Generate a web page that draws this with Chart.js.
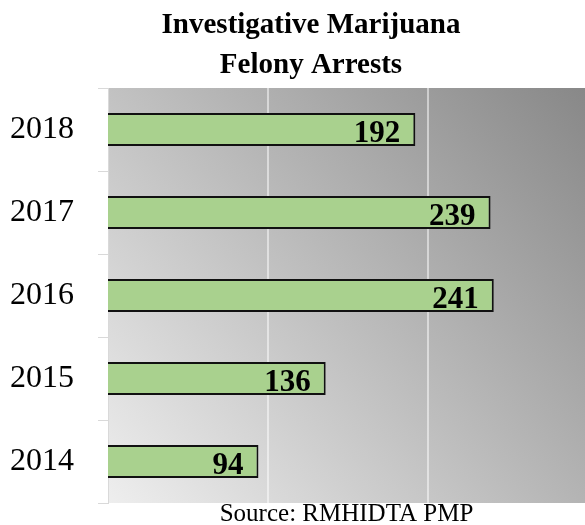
<!DOCTYPE html>
<html>
<head>
<meta charset="utf-8">
<script src="https://cdn.jsdelivr.net/npm/chart.js@4/dist/chart.umd.min.js"></script>
<style>
  html, body { margin: 0; padding: 0; background: #ffffff; overflow: hidden; }
  #wrap { position: relative; width: 585px; height: 525px; }
</style>
</head>
<body>
<div id="wrap"><canvas id="c" width="585" height="525"></canvas></div>
<script>
const years = ['2014', '2015', '2016', '2017', '2018'];
const arrests = [94, 136, 241, 239, 192];
const titleLines = ['Investigative Marijuana', 'Felony Arrests'];
const sourceText = 'Source: RMHIDTA PMP';
const gridValues = [100, 200];

const bgPlugin = {
  id: 'bg',
  beforeDraw(chart) {
    const { ctx, chartArea: a } = chart;
    const g = ctx.createLinearGradient(a.left, a.bottom, a.right, a.top);
    g.addColorStop(0, '#eeeeee');
    g.addColorStop(1, '#888888');
    ctx.save();
    ctx.fillStyle = g;
    ctx.fillRect(a.left, a.top, a.right - a.left, a.bottom - a.top);
    ctx.restore();
  },
  beforeDatasetsDraw(chart) {
    const { ctx, chartArea: a, scales } = chart;
    ctx.save();
    ctx.strokeStyle = 'rgba(255,255,255,0.5)';
    ctx.lineWidth = 2;
    gridValues.forEach(v => {
      const x = Math.round(scales.x.getPixelForValue(v));
      ctx.beginPath();
      ctx.moveTo(x, a.top);
      ctx.lineTo(x, a.bottom);
      ctx.stroke();
    });
    ctx.restore();
  }
};

const textPlugin = {
  id: 'texts',
  afterDraw(chart) {
    const { ctx, chartArea: a } = chart;
    ctx.save();
    ctx.fillStyle = '#000';
    ctx.textAlign = 'center';
    ctx.textBaseline = 'alphabetic';
    ctx.font = 'bold 29px "Liberation Serif", "Times New Roman", serif';
    ctx.fillText(titleLines[0], 311, 33);
    ctx.fillText(titleLines[1], 311, 73);
    ctx.font = '25px "Liberation Serif", "Times New Roman", serif';
    ctx.fillText(sourceText, (a.left + a.right) / 2, 521);
    const meta = chart.getDatasetMeta(0);
    ctx.font = 'bold 31px "Liberation Serif", "Times New Roman", serif';
    ctx.textAlign = 'right';
    ctx.textBaseline = 'alphabetic';
    meta.data.forEach((bar, i) => {
      ctx.fillText(String(chart.data.datasets[0].data[i]), bar.x - 15, bar.y + 12);
    });
    ctx.restore();
  }
};

new Chart(document.getElementById('c'), {
  type: 'bar',
  data: {
    labels: years,
    datasets: [{
      data: arrests,
      backgroundColor: '#a9d18e',
      borderColor: '#111111',
      borderWidth: 2,
      barPercentage: 0.4,
      categoryPercentage: 1.0
    }]
  },
  options: {
    indexAxis: 'y',
    responsive: false,
    animation: false,
    layout: { padding: { top: 88, bottom: 22, left: 0, right: 0 } },
    plugins: {
      legend: { display: false },
      title: { display: false },
      tooltip: { enabled: false }
    },
    scales: {
      x: {
        display: false,
        min: 0,
        max: 298
      },
      y: {
        reverse: true,
        border: { display: true, color: '#d9d9d9', width: 1 },
        grid: {
          drawOnChartArea: false,
          drawTicks: true,
          tickLength: 10,
          color: '#d9d9d9',
          offset: true
        },
        ticks: {
          color: '#000',
          padding: 24,
          font: { family: '"Liberation Serif", "Times New Roman", serif', size: 32 }
        },
        afterFit(s) { s.width = 108; s.paddingTop = 0; s.paddingBottom = 0; }
      }
    }
  },
  plugins: [bgPlugin, textPlugin]
});
</script>
</body>
</html>
